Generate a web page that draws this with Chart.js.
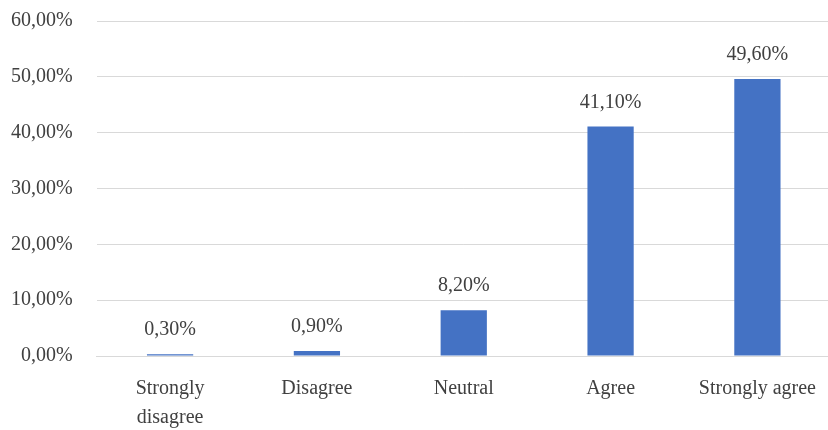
<!DOCTYPE html>
<html>
<head>
<meta charset="utf-8">
<script src="https://cdn.jsdelivr.net/npm/chart.js@4.4.1/dist/chart.umd.min.js"></script>
<style>
  html, body { margin: 0; padding: 0; background: #fff; overflow: hidden; }
  canvas { display: block; margin-top: -15px; }
</style>
</head>
<body>
<canvas id="chart" width="834" height="445"></canvas>
<script>
// Survey answers, share of respondents (%)
const categories = [['Strongly', 'disagree'], 'Disagree', 'Neutral', 'Agree', 'Strongly agree'];
const shares = [0.3, 0.9, 8.2, 41.1, 49.6];
const yTicks = [0, 10, 20, 30, 40, 50, 60];

const textColor = '#404040';
const fontFamily = '"Liberation Serif", "Times New Roman", serif';

// format like 41,10%
function pct(v) {
  return v.toFixed(2).replace('.', ',') + '%';
}

// writes the value above each bar
const valueLabels = {
  id: 'valueLabels',
  afterDatasetsDraw(chart) {
    const ctx = chart.ctx;
    const meta = chart.getDatasetMeta(0);
    ctx.save();
    ctx.font = '20px ' + fontFamily;
    ctx.fillStyle = textColor;
    ctx.textAlign = 'center';
    ctx.textBaseline = 'alphabetic';
    meta.data.forEach((bar, i) => {
      ctx.fillText(pct(shares[i]), bar.x, bar.y - 19);
    });
    ctx.restore();
  }
};

const ctx = document.getElementById('chart').getContext('2d');
new Chart(ctx, {
  type: 'bar',
  data: {
    labels: categories,
    datasets: [{
      data: shares,
      backgroundColor: '#4472C4',
      borderWidth: 0,
      barPercentage: 0.315,
      categoryPercentage: 1
    }]
  },
  options: {
    responsive: false,
    animation: false,
    layout: { padding: { left: -13, top: 0, right: 0, bottom: -20 } },
    plugins: {
      legend: { display: false },
      tooltip: { enabled: false }
    },
    scales: {
      x: {
        grid: { display: false, drawTicks: false },
        border: { color: '#d9d9d9', width: 1 },
        ticks: {
          color: textColor,
          font: { family: fontFamily, size: 20, lineHeight: 1.45 },
          padding: 18,
          maxRotation: 0,
          autoSkip: false
        }
      },
      y: {
        min: 0,
        max: 60,
        afterBuildTicks(axis) {
          axis.ticks = yTicks.map(v => ({ value: v }));
        },
        grid: { color: '#d9d9d9', drawTicks: false },
        border: { display: false },
        ticks: {
          color: textColor,
          font: { family: fontFamily, size: 20 },
          padding: 24,
          callback: v => pct(v)
        }
      }
    }
  },
  plugins: [valueLabels]
});
</script>
</body>
</html>
